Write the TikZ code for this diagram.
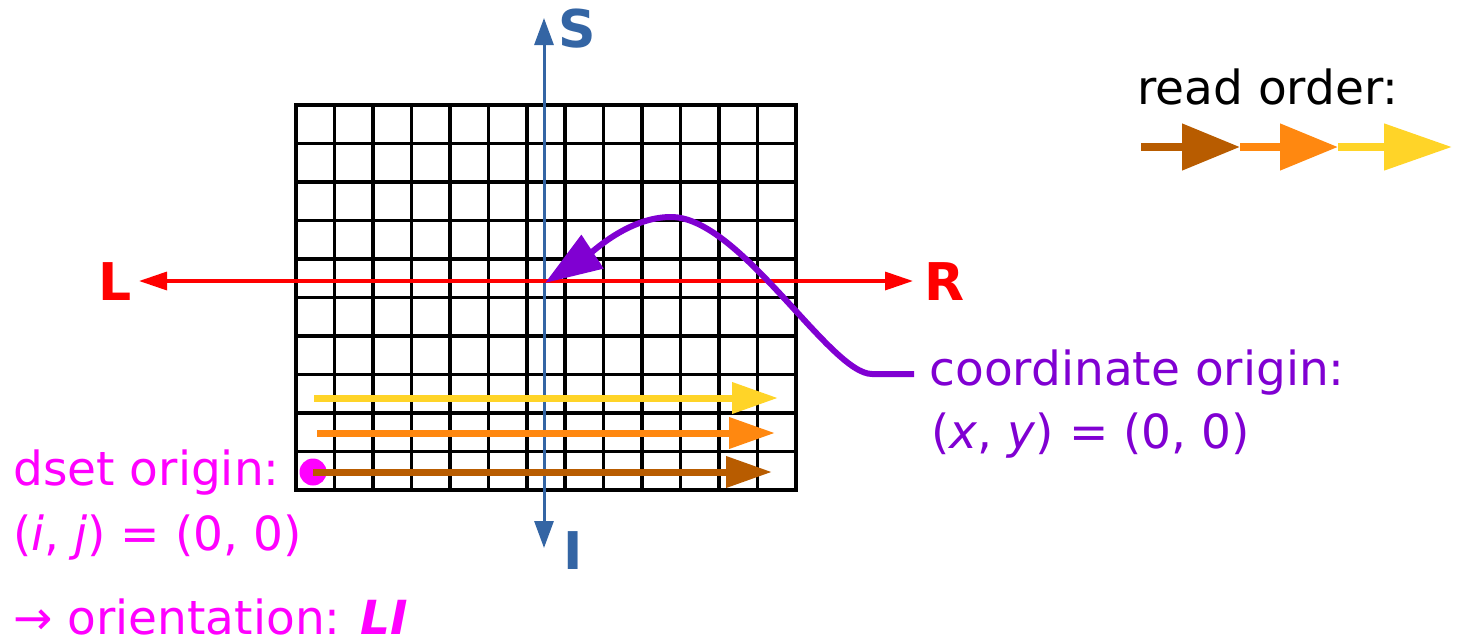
\documentclass[tikz,border=0pt]{standalone}
\usepackage{fontspec}
\setmainfont{DejaVu Sans}
\usetikzlibrary{arrows.meta}
\definecolor{cbrown}{RGB}{184,92,0}
\definecolor{corange}{RGB}{255,136,16}
\definecolor{cyellow}{RGB}{255,212,40}
\definecolor{cpurp}{RGB}{128,0,210}
\definecolor{cmag}{RGB}{255,0,255}
\definecolor{cblue}{RGB}{52,101,164}
\definecolor{cred}{RGB}{255,0,0}
\begin{document}
\begin{tikzpicture}[x=0.5pt,y=-0.5pt,
  txt/.style={inner sep=0pt, anchor=base west, font=\fontsize{23.5}{31.5}\selectfont},
  axlbl/.style={inner sep=0pt, font=\fontsize{26}{30}\selectfont\bfseries},
  gridline/.style={line width=1.75pt, black},
  redax/.style={line width=1.7pt, cred, {Triangle[length=14pt,width=9pt]}-{Triangle[length=14pt,width=9pt]}},
  blueax/.style={line width=1.5pt, cblue, {Triangle[length=13.5pt,width=9.5pt]}-{Triangle[length=13.5pt,width=9.5pt]}},
  garrow/.style={line width=3.5pt, -{Triangle[length=23pt,width=15pt]}},
  rarrow/.style={line width=4pt, -{Triangle[length=29pt,width=22.5pt]}},
  purparrow/.style={line width=3pt, cpurp, -{Triangle[length=28.5pt,width=19.5pt]}}
]
\useasboundingbox (0,0) rectangle (1458,643);
% grid
\draw[gridline] (296,105) rectangle (796,490);
\foreach \i in {1,...,12} \draw[gridline] ({296+\i*500/13},105) -- ({296+\i*500/13},490);
\foreach \j in {1,...,9} \draw[gridline] (296,{105+\j*38.5}) -- (796,{105+\j*38.5});
% axes
\coordinate (Lend) at (139,281);
\coordinate (Rend) at (913,281);
\coordinate (Stop) at (544,18);
\coordinate (Ibot) at (544,548);
\coordinate (O) at (545,283);
\draw[blueax] (Ibot) -- (Stop);
\draw[redax] (Lend) -- (Rend);
\node[axlbl, text=cred] (L) at (115,282) {L};
\node[axlbl, text=cred] (R) at (945,282) {R};
\node[axlbl, text=cblue] (S) at (577,29) {S};
\node[axlbl, text=cblue] (I) at (573,551) {I};
% read arrows in grid
\node[circle, fill=cmag, minimum size=13.5pt, inner sep=0pt] (dot) at (313,472) {};
\coordinate (ys) at (314,398); \coordinate (ye) at (778,398);
\coordinate (os) at (317,433); \coordinate (oe) at (775,433);
\coordinate (be) at (772,472);
\draw[garrow, cyellow] (ys) -- (ye);
\draw[garrow, corange] (os) -- (oe);
\draw[garrow, cbrown] (dot.center) -- (be);
% read order legend
\node[txt] (ro) at (1137,104) {read order:};
\coordinate (r0) at (1141,147);
\coordinate (r1) at (1240,147);
\coordinate (r2) at (1338,147);
\coordinate (r3) at (1452,147);
\draw[rarrow, cbrown] (r0) -- (r1);
\draw[rarrow, corange] (r1) -- (r2);
\draw[line width=4pt, cyellow, -{Triangle[length=34pt,width=22.5pt]}] (r2) -- (r3);
% coordinate origin
\node[txt, text=cpurp] (co) at (929,385) {coordinate origin:};
\node[txt, text=cpurp] (xy) at (931,448) {(\textit{x}, \textit{y}) = (0, 0)};
\coordinate (cs) at (914,374);
\draw[purparrow] (cs) -- (872,374) .. controls (830,374) and (740,217) .. (671,217) .. controls (630,217) and (595,250) .. (O);
% dset origin
\node[txt, text=cmag] (dso) at (13,485) {dset origin:};
\node[txt, text=cmag] (ij) at (13,550) {(\textit{i}, \textit{j}) = (0, 0)};
\node[txt, text=cmag, text depth=0pt] (ori) at (13,634) {→ orientation: \textbf{\textit{LI}}};
\end{tikzpicture}
\end{document}
